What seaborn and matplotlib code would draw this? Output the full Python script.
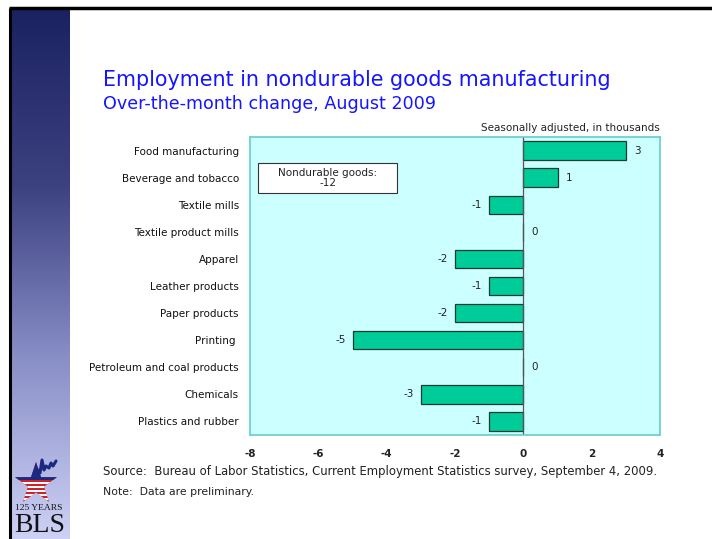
import numpy as np
import pandas as pd
import matplotlib
matplotlib.use("Agg")
import matplotlib.pyplot as plt
from matplotlib.patches import Polygon, Rectangle
from matplotlib.colors import LinearSegmentedColormap
import seaborn as sns

industries = ["Food manufacturing", "Beverage and tobacco", "Textile mills",
              "Textile product mills", "Apparel", "Leather products",
              "Paper products", "Printing ", "Petroleum and coal products",
              "Chemicals", "Plastics and rubber"]
change = [3, 1, -1, 0, -2, -1, -2, -5, 0, -3, -1]
x_ticks = [-8, -6, -4, -2, 0, 2, 4]
total_label = "Nondurable goods:\n-12"

sns.set_theme(style="white")
plt.rcParams["font.family"] = ["DejaVu Sans"]

W, H = 712, 539
fig = plt.figure(figsize=(W / 100, H / 100), dpi=100)
fig.patch.set_facecolor("white")

def fx(px):
    return px / W

def fy(py):
    return 1 - py / H

# Sidebar gradient
side = fig.add_axes([fx(11), 0, fx(70) - fx(11), fy(9)])
grad = np.linspace(0, 1, 256).reshape(-1, 1)
cmap = LinearSegmentedColormap.from_list("side", ["#1b2262", "#3c4180", "#8a90c8", "#cdd1f5"])
side.imshow(grad, aspect="auto", cmap=cmap, extent=[0, 1, 0, 1], origin="upper")
side.set_axis_off()

# Chart
df = pd.DataFrame({"industry": industries, "change": change})
ax = fig.add_axes([fx(250), fy(435), fx(660) - fx(250), fy(137) - fy(435)])
sns.barplot(data=df, x="change", y="industry", orient="h", color="#00cc99",
            saturation=1, edgecolor="#1a3a30", linewidth=0.9, width=0.68, ax=ax)
ax.set_facecolor("#ccffff")
for s in ax.spines.values():
    s.set_color("#66cccc")
    s.set_linewidth(1.2)
ax.set_xlim(-8, 4)
ax.set_ylim(len(industries) - 0.5, -0.5)
ax.axvline(0, color="#555555", lw=0.9, zorder=1)
ax.set_xticks(x_ticks)
ax.set_xticklabels([str(t) for t in x_ticks], fontsize=7.5, fontweight="bold", color="#222222")
ax.tick_params(axis="x", length=0, pad=10)
ax.tick_params(axis="y", length=0, pad=8, labelsize=7.5, labelcolor="#111111")
ax.set_xlabel("")
ax.set_ylabel("")

for i, v in enumerate(change):
    if v < 0:
        ax.annotate(str(v), (v, i), xytext=(-5, 0), textcoords="offset points",
                    ha="right", va="center", fontsize=7.5, color="#222222")
    else:
        ax.annotate(str(v), (v, i), xytext=(6, 0), textcoords="offset points",
                    ha="left", va="center", fontsize=7.5, color="#222222")

# Total box
ax.add_patch(Rectangle((-7.78, 0.46), 4.09, 1.11, fc="white", ec="#333333", lw=0.8, zorder=4))
ax.text(-5.73, 1.01, total_label, ha="center", va="center", fontsize=7.5, color="#222222",
        linespacing=1.1, zorder=5)
ax.text(1.0, 1.015, "Seasonally adjusted, in thousands", transform=ax.transAxes,
        ha="right", va="bottom", fontsize=7.5, color="#222222")

# Titles and notes
fig.text(fx(103), fy(80), "Employment in nondurable goods manufacturing",
         fontsize=14.9, color="#1515ff", va="center", ha="left")
fig.text(fx(103), fy(104), "Over-the-month change, August 2009",
         fontsize=12.6, color="#1515ff", va="center", ha="left")
fig.text(fx(103), fy(471),
         "Source:  Bureau of Labor Statistics, Current Employment Statistics survey, September 4, 2009.",
         fontsize=8.4, color="#222222", va="center", ha="left")
fig.text(fx(103), fy(492), "Note:  Data are preliminary.",
         fontsize=7.8, color="#222222", va="center", ha="left")

# Frame lines and logo in pixel coordinates
ov = fig.add_axes([0, 0, 1, 1], zorder=5)
ov.set_xlim(0, W)
ov.set_ylim(H, 0)
ov.set_axis_off()
ov.patch.set_alpha(0)
ov.plot([9, W], [8, 8], color="black", lw=2.5, solid_capstyle="butt")
ov.plot([10, 10], [8, H], color="black", lw=2.2, solid_capstyle="butt")

cx, cy, ro, ri = 36, 484, 22, 8.5
ang = np.pi / 2 + np.arange(10) * np.pi / 5
rad = np.where(np.arange(10) % 2 == 0, ro, ri)
pts = np.column_stack([cx + rad * np.cos(ang), cy - rad * np.sin(ang)])
star = Polygon(pts, closed=True, fc="#cc2229", ec="none")
ov.add_patch(star)
for yy in np.arange(cy - 2, cy + 22, 4.0):
    r = Rectangle((cx - 25, yy), 50, 1.8, fc="white", ec="none")
    r.set_clip_path(star)
    ov.add_patch(r)
top = Rectangle((cx - 25, cy - 25), 50, 21, fc="#1b2a80", ec="none")
top.set_clip_path(star)
ov.add_patch(top)
ov.plot([36, 38, 40, 42, 44, 46, 49, 51, 53, 56],
        [478, 470, 473, 460, 470, 466, 468, 463, 466, 461], color="#1b2a80", lw=2.2)
ov.text(39, 508, "125 YEARS", fontsize=6.8, family="Liberation Serif", ha="center",
        va="center", color="#111111")
ov.text(40, 538.5, "BLS", fontsize=20, family="Liberation Serif", ha="center",
        va="bottom", color="#111111")

fig.savefig("out.png", dpi=100, facecolor="white")
